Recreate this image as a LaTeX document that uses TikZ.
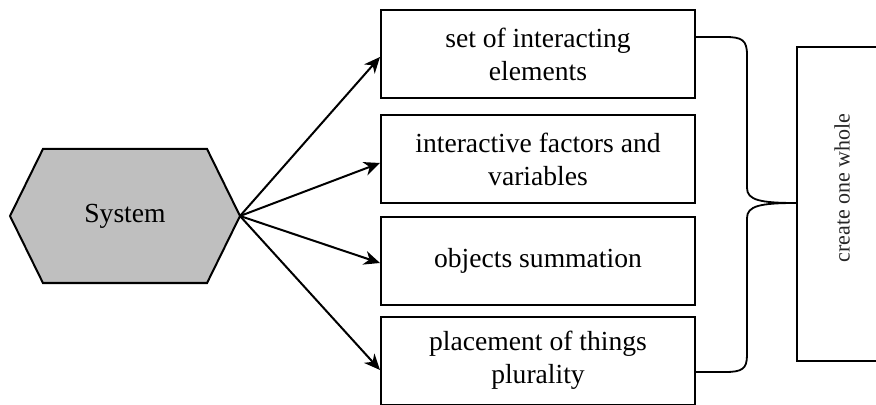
\documentclass[tikz,border=0pt]{standalone}
\usepackage{fontspec}
\setmainfont{Liberation Serif}
\usetikzlibrary{arrows.meta,shapes.symbols}
\begin{document}
\begin{tikzpicture}[x=0.5pt,y=-0.5pt,
  itembox/.style={draw,line width=1pt,minimum width=157pt,minimum height=44pt,
    align=center,font=\fontsize{13.8}{16.5}\selectfont,inner sep=0pt},
  arr/.style={line width=1pt,-{Stealth[length=8pt,width=7pt,inset=2.5pt]}},
  bracel/.style={line width=0.9pt}]
\useasboundingbox (0,0) rectangle (876,405);
\begin{scope}
\clip (0,0) rectangle (876,405);
\node[draw,line width=1pt,fill=black!25,signal,signal to=west and east,
  signal pointer angle=127.6,minimum width=115pt,minimum height=67pt,
  inner sep=0pt,font=\fontsize{13.8}{16.5}\selectfont] (sys) at (125,216) {System};
\node[itembox] (b1) at (538,54) {set of interacting\\elements};
\node[itembox] (b2) at (538,159) {interactive factors and\\variables};
\node[itembox] (b3) at (538,261) {objects summation};
\node[itembox] (b4) at (538,360.5) {placement of things\\plurality};
\node[draw,line width=1pt,minimum width=55pt,minimum height=157pt,inner sep=0pt] (whole) at (852,204) {};
\node[rotate=90,font=\fontsize{11}{13}\selectfont,text=black!85] (wholetxt) at (842,188) {create one whole};
\coordinate (sysr) at (240,216);
\draw[arr] (sysr) -- (b1.west |- 0,57);
\draw[arr] (sysr) -- (b2.west |- 0,163);
\draw[arr] (sysr) -- (b3.west |- 0,263);
\draw[arr] (sysr) -- (b4.west |- 0,370);
\coordinate (bt) at (695,37);
\coordinate (bb) at (695,372);
\coordinate (tip) at (whole.west |- 0,203);
\draw[bracel] (bt) -- (725,37) .. controls (742,37) and (747,40) .. (747,55)
  -- (747,188) .. controls (747,200) and (760,203) .. (tip)
  .. controls (760,203) and (747,206) .. (747,218)
  -- (747,355) .. controls (747,369) and (742,372) .. (725,372) -- (bb);
\end{scope}
\end{tikzpicture}
\end{document}
